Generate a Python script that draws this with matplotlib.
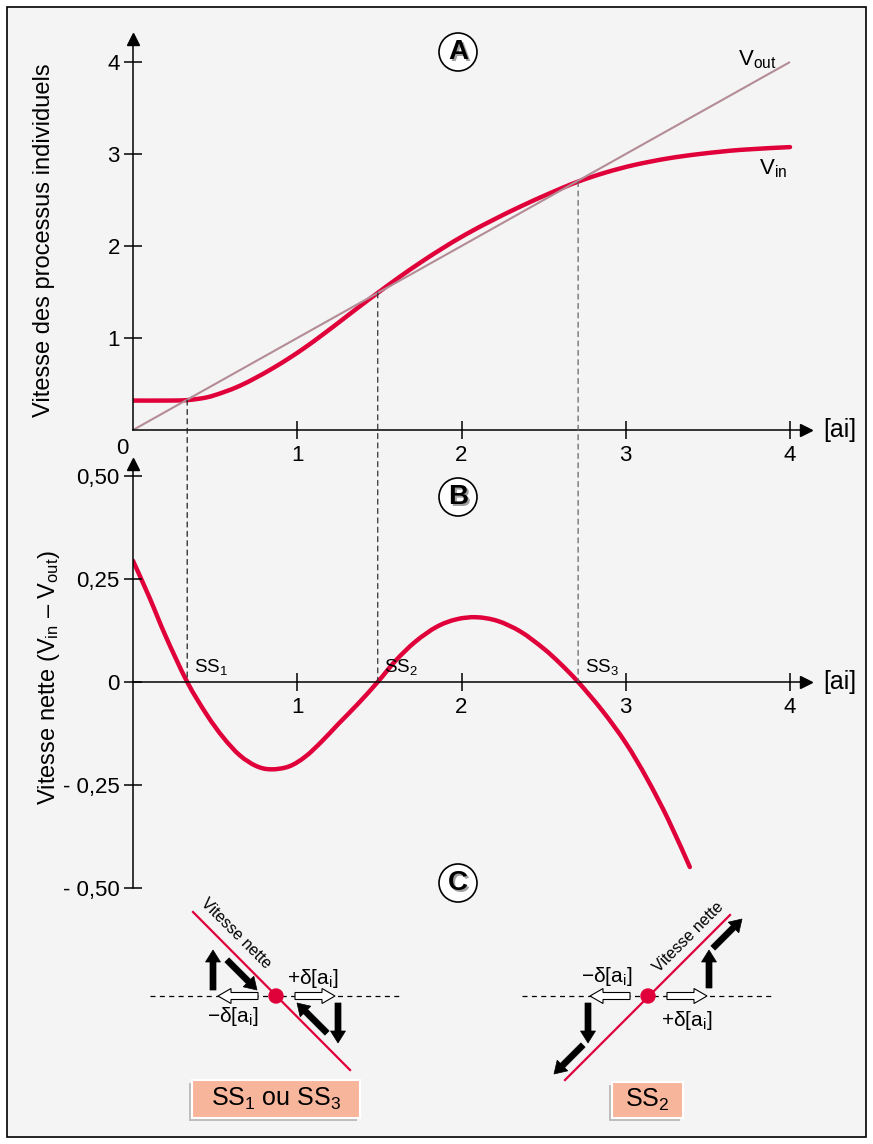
"""Steady states of a single process: V_in / V_out, net rate, stability sketch."""
import matplotlib
matplotlib.use('Agg')
import matplotlib.pyplot as plt
from matplotlib.patches import Rectangle, Circle, FancyArrow, ConnectionPatch, PathPatch
from matplotlib.path import Path

plt.rcParams['font.family'] = ['Liberation Sans', 'DejaVu Sans']
plt.rcParams['mathtext.fontset'] = 'custom'
plt.rcParams['mathtext.rm'] = 'Liberation Sans'
plt.rcParams['mathtext.it'] = 'Liberation Sans:italic'

BG = '#F4F4F4'
RED = '#E0003A'
MAUVE = '#B48C96'
SALMON = '#F7B59B'

# ---- data ----
vin_x = [0, 0.2, 0.33, 0.45, 0.55, 0.65, 0.75, 0.85, 0.95, 1.05, 1.15, 1.25, 1.37,
         1.49, 1.62, 1.75, 1.88, 2.03, 2.2, 2.36, 2.54, 2.71, 2.88, 3.05, 3.25,
         3.45, 3.7, 4.0]
vin_y = [0.32, 0.32, 0.325, 0.355, 0.41, 0.48, 0.57, 0.67, 0.78, 0.90, 1.03, 1.165, 1.33,
         1.49, 1.66, 1.82, 1.97, 2.13, 2.29, 2.43, 2.575, 2.70, 2.80, 2.88, 2.95,
         3.0, 3.045, 3.075]
vout_x = [0, 4]
vout_y = [0, 4]

net_x = [0, 0.1, 0.2, 0.33, 0.45, 0.55, 0.65, 0.75, 0.84, 0.95, 1.05, 1.15, 1.25,
         1.37, 1.49, 1.6, 1.72, 1.85, 1.97, 2.09, 2.22, 2.36, 2.5, 2.6, 2.71,
         2.86, 3.0, 3.13, 3.26, 3.39]
net_y = [0.294, 0.205, 0.11, 0.0, -0.08, -0.135, -0.178, -0.204, -0.212, -0.205, -0.181,
         -0.144, -0.102, -0.053, 0.0, 0.052, 0.098, 0.134, 0.152, 0.157, 0.148, 0.122,
         0.081, 0.045, 0.0, -0.071, -0.148, -0.235, -0.335, -0.449]

ss_x = [0.33, 1.49, 2.71]
ss_labels = ['SS$_1$', 'SS$_2$', 'SS$_3$']
ss_colors = ['#222222', '#333333', '#666666']

a_ticks = [1, 2, 3, 4]
b_yticks = [-0.5, -0.25, 0, 0.25, 0.5]
b_yticklabels = ['- 0,50', '- 0,25', '0', '0,25', '0,50']

W, H = 873, 1144
fig = plt.figure(figsize=(W / 100, H / 100), dpi=100, facecolor='white')
fig.add_artist(Rectangle((7 / W, 7 / H), 859 / W, 1130 / H, transform=fig.transFigure,
                         facecolor=BG, edgecolor='black', linewidth=1.2, zorder=-5))


def px_box(left, right, top, bottom):
    return [left / W, (H - bottom) / H, (right - left) / W, (bottom - top) / H]


def style_axes(ax):
    ax.set_facecolor('none')
    for s in ('top', 'right'):
        ax.spines[s].set_visible(False)
    for s in ('left', 'bottom'):
        ax.spines[s].set_linewidth(1.1)
    ax.tick_params(direction='inout', length=13, width=1.1, labelsize=16)
    ax.tick_params(axis='x', pad=4)
    ax.tick_params(axis='y', pad=3)
    ax.plot(1, 0, '>k', ms=8, transform=ax.get_yaxis_transform(), clip_on=False)
    ax.plot(0, 1, '^k', ms=8, transform=ax.get_xaxis_transform(), clip_on=False)


def smooth_curve(ax, xs, ys, **kw):
    # Catmull-Rom through the read points, drawn as cubic Bezier segments
    pts = list(zip(xs, ys))
    verts = [pts[0]]
    codes = [Path.MOVETO]
    n = len(pts)
    for i in range(n - 1):
        p0 = pts[max(i - 1, 0)]
        p1 = pts[i]
        p2 = pts[i + 1]
        p3 = pts[min(i + 2, n - 1)]
        c1 = (p1[0] + (p2[0] - p0[0]) / 6, p1[1] + (p2[1] - p0[1]) / 6)
        c2 = (p2[0] - (p3[0] - p1[0]) / 6, p2[1] - (p3[1] - p1[1]) / 6)
        verts += [c1, c2, p2]
        codes += [Path.CURVE4] * 3
    ax.add_patch(PathPatch(Path(verts, codes), facecolor='none', capstyle='round',
                           joinstyle='round', **kw))


# ---- panel A ----
axA = fig.add_axes(px_box(133, 133 + 4.1 * 164.25, 430 - 4.25 * 92, 430))
axA.set_xlim(0, 4.1)
axA.set_ylim(0, 4.25)
style_axes(axA)
axA.plot(vout_x, vout_y, color=MAUVE, lw=1.5, solid_capstyle='butt')
smooth_curve(axA, vin_x, vin_y, edgecolor=RED, lw=3.2)
axA.set_xticks(a_ticks)
axA.set_yticks(a_ticks)
axA.set_ylabel('Vitesse des processus individuels', fontsize=17)
axA.yaxis.set_label_coords(-0.116, 0.485)
axA.text(-0.065, -0.09, '0', fontsize=16, ha='center', va='top')
axA.text(4.2, 0, '[ai]', fontsize=18, ha='left', va='center')
axA.text(3.8, 4.03, 'V$_{\\mathrm{out}}$', fontsize=16, ha='center', va='center')
axA.text(3.9, 2.84, 'V$_{\\mathrm{in}}$', fontsize=16, ha='center', va='center')

# ---- panel B ----
axB = fig.add_axes(px_box(133, 133 + 4.1 * 164.25, 684 - 0.53 * 416, 888))
axB.set_xlim(0, 4.1)
axB.set_ylim(-0.5, 0.53)
style_axes(axB)
axB.spines['bottom'].set_position(('data', 0))
smooth_curve(axB, net_x, net_y, edgecolor=RED, lw=3.2)
axB.set_xticks(a_ticks)
axB.set_yticks(b_yticks)
axB.set_yticklabels(b_yticklabels)
axB.set_ylabel('Vitesse nette (V$_{\\mathrm{in}}$ \u2013 V$_{\\mathrm{out}}$)', fontsize=17)
axB.yaxis.set_label_coords(-0.105, 0.495)
axB.text(4.2, 0, '[ai]', fontsize=18, ha='left', va='center')
for x, lab in zip(ss_x, ss_labels):
    axB.text(x + 0.04, 0.012, lab, fontsize=13.5, ha='left', va='bottom')

# dashed links from the crossings in A down to the zeros in B
for x, c in zip(ss_x, ss_colors):
    y_top = vin_y[vin_x.index(x)]
    con = ConnectionPatch(xyA=(x, y_top), coordsA=axA.transData,
                          xyB=(x, 0), coordsB=axB.transData,
                          color=c, lw=0.9, linestyle=(0, (4, 3.5)), zorder=1)
    fig.add_artist(con)

# ---- overlay in pixel units: badges + panel C sketch ----
ov = fig.add_axes([0, 0, 1, 1])
ov.set_xlim(0, W)
ov.set_ylim(H, 0)
ov.axis('off')
ov.set_zorder(5)

for letter, (cx, cy) in zip('ABC', [(458, 52), (458, 497), (458, 883)]):
    ov.add_patch(Circle((cx, cy), 19, facecolor='white', edgecolor='black', lw=1.2))
    ov.text(cx + 2, cy + 2, letter, fontsize=20, fontweight='bold', color='#A0A0A0',
            ha='center', va='center')
    ov.text(cx, cy, letter, fontsize=20, fontweight='bold', color='black',
            ha='center', va='center')


def black_arrow(cx, cy, x0, y0, x1, y1):
    # offsets are in px, y up
    ov.add_patch(FancyArrow(cx + x0, cy - y0, x1 - x0, -(y1 - y0), width=6,
                            head_width=15, head_length=12, length_includes_head=True,
                            facecolor='black', edgecolor='black', lw=0.5))


def white_arrow(cx, cy, x0, x1):
    ov.add_patch(FancyArrow(cx + x0, cy, x1 - x0, 0, width=7, head_width=15,
                            head_length=13, length_includes_head=True,
                            facecolor='white', edgecolor='black', lw=0.8, zorder=3))


def sketch(cx, cy, line, text_pos, text_rot, dlabels, blacks, box, box_text):
    ov.plot([cx - 126, cx + 125], [cy, cy], color='black', lw=0.9,
            linestyle=(0, (4, 3.5)), zorder=1)
    ov.plot([cx + line[0], cx + line[2]], [cy - line[1], cy - line[3]],
            color=RED, lw=1.6, zorder=2)
    white_arrow(cx, cy, -18, -58)
    white_arrow(cx, cy, 19, 59)
    ov.add_patch(Circle((cx, cy), 7, facecolor=RED, edgecolor=RED, zorder=4))
    for b in blacks:
        black_arrow(cx, cy, *b)
    ov.text(cx + text_pos[0], cy - text_pos[1], 'Vitesse nette', fontsize=11.5,
            rotation=text_rot, ha='center', va='center', rotation_mode='anchor')
    for (dx, dy), s in dlabels:
        ov.text(cx + dx, cy - dy, s, fontsize=15, ha='center', va='center')
    l, r, t, b = box
    ov.add_patch(Rectangle((cx + l - 3, cy - b + 3), r - l, b - t, facecolor='#BDBDBD',
                           edgecolor='none'))
    ov.add_patch(Rectangle((cx + l, cy - b), r - l, b - t, facecolor=SALMON,
                           edgecolor='white', lw=1.5))
    ov.text(cx + (l + r) / 2, cy - (t + b) / 2, box_text, fontsize=18,
            ha='center', va='center')


sketch(276, 996, (-83, 84, 74, -74), (-40, 63), -45,
       [((37, 18), '+\u03b4[a$_\\mathrm{i}$]'), ((-43, -21), '\u2212\u03b4[a$_\\mathrm{i}$]')],
       [(-63, 6, -63, 46), (-49, 36, -19, 6), (62, -7, 62, -47), (51, -37, 21, -7)],
       (-84, 84, -84, -122), 'SS$_1$ ou SS$_3$')

sketch(648, 996, (-83, -84, 82, 81), (40, 59), 45,
       [((-41, 19), '\u2212\u03b4[a$_\\mathrm{i}$]'), ((39, -24), '+\u03b4[a$_\\mathrm{i}$]')],
       [(61, 8, 61, 46), (65, 48, 94, 77), (-60, -7, -60, -47), (-65, -49, -94, -78)],
       (-36, 35, -86, -122), 'SS$_2$')

fig.savefig('out.png', dpi=100, facecolor='white')
